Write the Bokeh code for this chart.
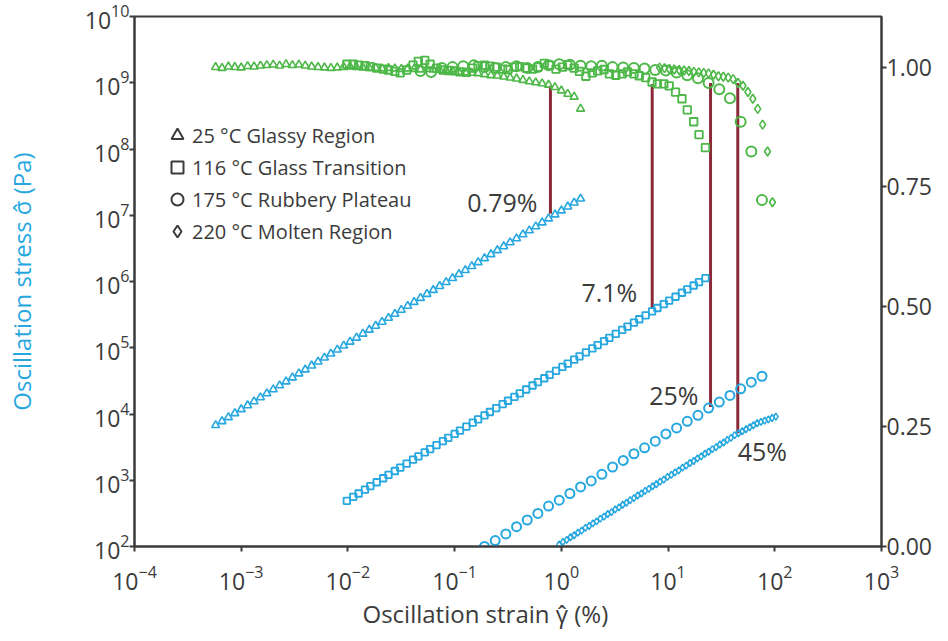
import numpy as np
from bokeh.plotting import figure
from bokeh.models import (Range1d, LinearAxis, LinearScale, FixedTicker, PrintfTickFormatter,
                          Legend, LegendItem, Label, Title)
from bokeh.embed import file_html
from bokeh.resources import INLINE

# ---------------- data (log10 of strain in %, log10 of stress in Pa, normalised modulus) -------------
tri_log_strain = [-3.24, -3.18, -3.12, -3.06, -3.00, -2.94, -2.88, -2.82, -2.76, -2.70,
                  -2.64, -2.58, -2.52, -2.46, -2.40, -2.34, -2.28, -2.22, -2.16, -2.10,
                  -2.04, -1.98, -1.92, -1.86, -1.80, -1.74, -1.68, -1.62, -1.56, -1.50,
                  -1.44, -1.38, -1.32, -1.26, -1.20, -1.14, -1.08, -1.02, -0.96, -0.90,
                  -0.84, -0.78, -0.72, -0.66, -0.60, -0.54, -0.48, -0.42, -0.36, -0.30,
                  -0.24, -0.18, -0.12, -0.06, 0.00, 0.06, 0.12, 0.18]
tri_log_stress = [3.83, 3.89, 3.95, 4.01, 4.07, 4.13, 4.19, 4.25, 4.31, 4.37,
                  4.43, 4.49, 4.55, 4.61, 4.67, 4.73, 4.79, 4.85, 4.91, 4.97,
                  5.03, 5.09, 5.15, 5.21, 5.27, 5.33, 5.39, 5.45, 5.51, 5.57,
                  5.63, 5.69, 5.75, 5.81, 5.87, 5.93, 5.99, 6.05, 6.11, 6.17,
                  6.23, 6.29, 6.35, 6.41, 6.47, 6.53, 6.59, 6.65, 6.71, 6.77,
                  6.83, 6.89, 6.95, 7.01, 7.07, 7.13, 7.19, 7.25]
tri_norm = [1.000, 0.998, 1.001, 1.000, 0.999, 1.002, 1.001, 1.003, 1.004, 1.005,
            1.003, 1.006, 1.004, 1.005, 1.003, 1.001, 1.000, 0.999, 0.998, 0.999,
            1.000, 1.001, 1.000, 0.999, 0.998, 0.998, 0.997, 0.998, 0.997, 0.996,
            0.997, 0.996, 0.995, 0.996, 0.995, 0.994, 0.993, 0.992, 0.990, 0.989,
            0.988, 0.987, 0.985, 0.983, 0.982, 0.980, 0.978, 0.976, 0.973, 0.970,
            0.968, 0.966, 0.963, 0.958, 0.951, 0.944, 0.938, 0.913]

sq_log_strain = [-2.01, -1.95, -1.90, -1.84, -1.79, -1.73, -1.67, -1.62, -1.56, -1.51,
                 -1.45, -1.39, -1.34, -1.28, -1.23, -1.17, -1.11, -1.06, -1.00, -0.95,
                 -0.89, -0.83, -0.78, -0.72, -0.67, -0.61, -0.55, -0.50, -0.44, -0.39,
                 -0.33, -0.27, -0.22, -0.16, -0.11, -0.05, 0.01, 0.06, 0.12, 0.17,
                 0.23, 0.29, 0.34, 0.40, 0.45, 0.51, 0.57, 0.62, 0.68, 0.73,
                 0.79, 0.85, 0.90, 0.96, 1.01, 1.07, 1.13, 1.18, 1.24, 1.29,
                 1.35]
sq_log_stress = [2.69, 2.75, 2.80, 2.86, 2.91, 2.97, 3.03, 3.08, 3.14, 3.19,
                 3.25, 3.31, 3.36, 3.42, 3.47, 3.53, 3.59, 3.64, 3.70, 3.75,
                 3.81, 3.87, 3.92, 3.98, 4.03, 4.09, 4.15, 4.20, 4.26, 4.31,
                 4.37, 4.43, 4.48, 4.54, 4.59, 4.65, 4.71, 4.76, 4.82, 4.87,
                 4.93, 4.99, 5.04, 5.10, 5.15, 5.21, 5.27, 5.32, 5.38, 5.43,
                 5.49, 5.55, 5.60, 5.66, 5.71, 5.77, 5.83, 5.88, 5.94, 5.99,
                 6.05]
sq_norm = [1.006, 1.006, 1.004, 1.003, 1.001, 0.998, 0.996, 0.994, 0.991, 0.988,
           0.994, 1.004, 1.012, 1.014, 1.006, 0.998, 0.994, 0.993, 0.992, 0.990,
           0.989, 0.998, 1.003, 1.004, 1.002, 1.000, 0.996, 0.995, 1.000, 1.001,
           0.998, 0.996, 1.000, 1.008, 1.004, 0.996, 1.000, 1.005, 0.998, 0.991,
           0.981, 0.988, 0.992, 0.995, 0.986, 0.983, 0.986, 0.990, 0.986, 0.982,
           0.978, 0.969, 0.965, 0.965, 0.961, 0.948, 0.934, 0.911, 0.886, 0.859,
           0.832]

circ_log_strain = [-0.72, -0.62, -0.52, -0.42, -0.32, -0.22, -0.12, -0.02, 0.08, 0.18,
                   0.28, 0.38, 0.48, 0.58, 0.68, 0.78, 0.88, 0.98, 1.08, 1.18,
                   1.28, 1.38, 1.48, 1.58, 1.68, 1.78, 1.88]
circ_log_stress = [2.00, 2.09, 2.19, 2.30, 2.40, 2.50, 2.61, 2.70, 2.80, 2.90,
                   2.99, 3.09, 3.20, 3.30, 3.40, 3.49, 3.59, 3.70, 3.79, 3.89,
                   3.98, 4.09, 4.18, 4.28, 4.38, 4.48, 4.57]
circ_norm_log_strain = [-1.32, -1.22, -1.12, -1.02, -0.92, -0.82, -0.72, -0.62, -0.52, -0.42,
                        -0.32, -0.22, -0.12, -0.02, 0.08, 0.18, 0.28, 0.38, 0.48, 0.58,
                        0.68, 0.78, 0.88, 0.98, 1.08, 1.18, 1.28, 1.38, 1.48, 1.58,
                        1.68, 1.78, 1.88]
circ_norm = [0.992, 0.990, 0.998, 1.000, 1.002, 1.004, 1.000, 0.998, 1.000, 1.002,
             0.998, 1.000, 1.004, 1.006, 1.005, 1.003, 1.002, 1.003, 1.000, 0.999,
             0.998, 0.997, 0.994, 0.993, 0.989, 0.983, 0.977, 0.967, 0.954, 0.935,
             0.886, 0.824, 0.723]

dia_log_strain = [-0.020, 0.015, 0.050, 0.085, 0.120, 0.155, 0.190, 0.225, 0.260, 0.295,
                  0.330, 0.365, 0.400, 0.435, 0.470, 0.505, 0.540, 0.575, 0.610, 0.645,
                  0.680, 0.715, 0.750, 0.785, 0.820, 0.855, 0.890, 0.925, 0.960, 0.995,
                  1.030, 1.065, 1.100, 1.135, 1.170, 1.205, 1.240, 1.275, 1.310, 1.345,
                  1.380, 1.415, 1.450, 1.485, 1.520, 1.555, 1.590, 1.625, 1.660, 1.695,
                  1.730, 1.765, 1.800, 1.835, 1.870, 1.905, 1.940, 1.975, 2.010]
dia_log_stress = [2.03, 2.07, 2.10, 2.14, 2.17, 2.21, 2.24, 2.28, 2.31, 2.35,
                  2.38, 2.42, 2.45, 2.49, 2.52, 2.56, 2.59, 2.63, 2.66, 2.70,
                  2.73, 2.77, 2.80, 2.84, 2.87, 2.91, 2.94, 2.98, 3.01, 3.05,
                  3.08, 3.12, 3.15, 3.19, 3.22, 3.26, 3.29, 3.33, 3.36, 3.40,
                  3.43, 3.47, 3.50, 3.54, 3.57, 3.61, 3.64, 3.68, 3.71, 3.74,
                  3.77, 3.80, 3.83, 3.86, 3.88, 3.90, 3.92, 3.94, 3.96]
dia_norm_log_strain = [0.920, 0.966, 1.012, 1.058, 1.104, 1.150, 1.196, 1.242, 1.288, 1.334,
                       1.380, 1.426, 1.472, 1.518, 1.564, 1.610, 1.656, 1.702, 1.748, 1.794,
                       1.840, 1.886, 1.932, 1.978]
dia_norm = [0.999, 0.998, 0.996, 0.995, 0.994, 0.993, 0.992, 0.990, 0.989, 0.988,
            0.987, 0.984, 0.981, 0.980, 0.978, 0.975, 0.967, 0.961, 0.948, 0.934,
            0.913, 0.880, 0.824, 0.718]

# critical strains (end of linear region)
crit_strain = [0.79, 7.1, 25, 45]
crit_norm = [0.961, 0.965, 0.967, 0.967]
crit_stress = [1.05e7, 3.9e5, 1.28e4, 5.1e3]
crit_labels = ["0.79%", "7.1%", "25%", "45%"]

legend_labels = ["25 \u00b0C Glassy Region", "116 \u00b0C Glass Transition",
                 "175 \u00b0C Rubbery Plateau", "220 \u00b0C Molten Region"]
x_ticks = [1e-4, 1e-3, 1e-2, 1e-1, 1e0, 1e1, 1e2, 1e3]
y_ticks = [1e2, 1e3, 1e4, 1e5, 1e6, 1e7, 1e8, 1e9, 1e10]
norm_ticks = [0.0, 0.25, 0.5, 0.75, 1.0]
x_title = "Oscillation strain \u03b3\u0302 (%)"
y_title = "Oscillation stress \u03c3\u0302 (Pa)"

# ---------------- styling -------------
BLUE = "#27a7df"
GREEN = "#4db848"
RED = "#8b2a38"
INK = "#3b3b3b"
FONT = "Open Sans"

Y_LO, Y_HI = 1e2, 1e10
N_HI = 1.1056

p = figure(frame_width=747, frame_height=530, x_axis_type="log", y_axis_type="log",
           x_range=Range1d(1e-4, 1e3), y_range=Range1d(Y_LO, Y_HI),
           output_backend="svg", toolbar_location=None,
           min_border_left=134, min_border_right=51, min_border_top=16, min_border_bottom=79)
p.extra_y_ranges = {"norm": Range1d(0, N_HI)}
p.extra_y_scales = {"norm": LinearScale()}
p.grid.visible = False
p.outline_line_color = INK
p.outline_line_width = 2
p.background_fill_color = "white"
p.border_fill_color = "white"

right = LinearAxis(y_range_name="norm", ticker=FixedTicker(ticks=norm_ticks),
                   formatter=PrintfTickFormatter(format="%.2f"))
p.add_layout(right, "right")

p.xaxis.ticker = FixedTicker(ticks=x_ticks)
p.yaxis[0].ticker = FixedTicker(ticks=y_ticks)
p.yaxis[0].axis_label = y_title

for ax in p.axis:
    ax.axis_line_color = INK
    ax.axis_line_width = 2
    ax.major_tick_line_color = INK
    ax.major_tick_line_width = 2
    ax.major_tick_in = 0
    ax.major_tick_out = 5
    ax.minor_tick_line_color = None
    ax.major_label_text_font = FONT
    ax.major_label_text_font_size = "23px"
    ax.major_label_text_color = INK
    ax.axis_label_text_font = FONT
    ax.axis_label_text_font_size = "24px"
    ax.axis_label_text_font_style = "normal"
    ax.major_label_standoff = 0

p.xaxis.major_label_standoff = 13
p.yaxis[0].axis_label_standoff = 44
p.yaxis[0].axis_label_text_color = BLUE

# x-axis title, set slightly left of the frame centre as in the original
p.add_layout(Title(text=x_title, align="left", offset=228, standoff=4,
                   text_font=FONT, text_font_size="24px", text_font_style="normal",
                   text_color=INK), "below")

def lg(v):
    return [10 ** a for a in v]

# vertical markers for critical strains: top end expressed on the left axis via the two ranges
lo, hi = np.log10(Y_LO), np.log10(Y_HI)
crit_top = [10 ** (lo + (n / N_HI) * (hi - lo)) for n in crit_norm]
p.segment(x0=crit_strain, y0=crit_stress, x1=crit_strain, y1=crit_top,
          line_color=RED, line_width=3)

# stress (left axis, blue)
p.scatter(lg(tri_log_strain), lg(tri_log_stress), marker="triangle", size=8,
          fill_color=None, line_color=BLUE, line_width=1.6)
p.scatter(lg(sq_log_strain), lg(sq_log_stress), marker="square", size=6.5,
          fill_color=None, line_color=BLUE, line_width=1.8)
p.scatter(lg(circ_log_strain), lg(circ_log_stress), marker="circle", size=9,
          fill_color=None, line_color=BLUE, line_width=2)
p.scatter(lg(dia_log_strain), lg(dia_log_stress), marker="diamond", size=7,
          fill_color=None, line_color=BLUE, line_width=1.5)

# normalised modulus (right axis, green)
p.scatter(lg(tri_log_strain), tri_norm, y_range_name="norm", marker="triangle", size=8,
          fill_color=None, line_color=GREEN, line_width=1.6)
p.scatter(lg(sq_log_strain), sq_norm, y_range_name="norm", marker="square", size=7.5,
          fill_color=None, line_color=GREEN, line_width=1.8)
p.scatter(lg(circ_norm_log_strain), circ_norm, y_range_name="norm", marker="circle", size=10,
          fill_color=None, line_color=GREEN, line_width=2)
p.scatter(lg(dia_norm_log_strain), dia_norm, y_range_name="norm", marker="diamond", size=9,
          fill_color=None, line_color=GREEN, line_width=1.6)

# labels of critical strains
label_style = [dict(align="right", dx=-13, dy=12), dict(align="right", dx=-15, dy=17),
               dict(align="right", dx=-12, dy=12), dict(align="left", dx=0, dy=-18)]
for s, st, t, sty in zip(crit_strain, crit_stress, crit_labels, label_style):
    p.add_layout(Label(x=s, y=st, text=t, x_offset=sty["dx"], y_offset=sty["dy"],
                       text_align=sty["align"], text_baseline="middle",
                       text_font=FONT, text_font_size="25px", text_color=INK))

# legend with dark outline markers (legend-only renderers hold a single NaN point)
items = []
for m, lab in zip(["triangle", "square", "circle", "diamond"], legend_labels):
    r = p.scatter([float("nan")], [float("nan")], marker=m, fill_color=None,
                  line_color=INK, line_width=2)
    items.append(LegendItem(label=lab, renderers=[r]))
legend = Legend(items=items, location=(28, 299), padding=0, margin=0,
                glyph_width=30, glyph_height=32, label_height=32, spacing=0, label_standoff=0,
                label_text_font=FONT, label_text_font_size="20px", label_text_color=INK,
                background_fill_alpha=0, border_line_color=None)
p.add_layout(legend)

open("out.html", "w").write(file_html(p, INLINE))
